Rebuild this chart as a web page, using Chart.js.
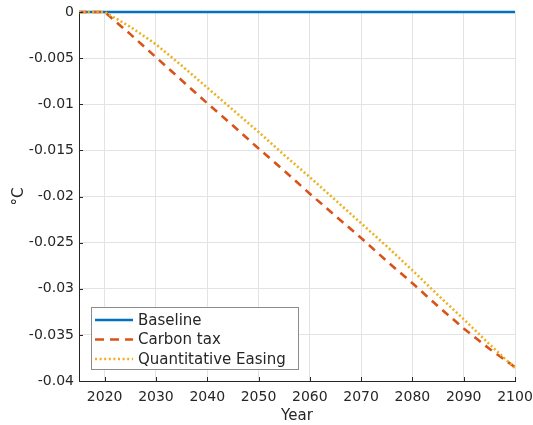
<!DOCTYPE html>
<html>
<head>
<meta charset="utf-8">
<script src="https://cdn.jsdelivr.net/npm/chart.js@4"></script>
<style>
  html, body { margin: 0; padding: 0; background: #fff; }
  #wrap { width: 533px; height: 425px; }
</style>
</head>
<body>
<div id="wrap"><canvas id="myChart" width="533" height="425"></canvas></div>
<script>
// data
const years = [2015, 2020, 2025, 2030, 2035, 2040, 2045, 2050, 2055, 2060, 2065, 2070, 2075, 2080, 2085, 2090, 2095, 2100];
const baseline = [0, 0, 0, 0, 0, 0, 0, 0, 0, 0, 0, 0, 0, 0, 0, 0, 0, 0];
const carbonTax = [0, 0, -0.0024, -0.0049, -0.0074, -0.0099, -0.0123, -0.0148, -0.0172, -0.0197, -0.0221, -0.0245, -0.0270, -0.0294, -0.0319, -0.0343, -0.0365, -0.0385];
const quantEasing = [0, 0, -0.0016, -0.0035, -0.0058, -0.0082, -0.0106, -0.0130, -0.0155, -0.0179, -0.0204, -0.0229, -0.0254, -0.0280, -0.0307, -0.0333, -0.0360, -0.0386];
const xTicks = [2020, 2030, 2040, 2050, 2060, 2070, 2080, 2090, 2100];

const seriesNames = ['Baseline', 'Carbon tax', 'Quantitative Easing'];
const colors = ['#0072BD', '#D95319', '#EDB120'];
const font = 'DejaVu Sans';

const toPts = arr => arr.map((v, i) => ({x: years[i], y: v}));

// small inward tick marks, matlab style
const innerTicks = {
    id: 'innerTicks',
    afterDatasetsDraw(chart) {
        const ctx = chart.ctx;
        const a = chart.chartArea;
        const xs = chart.scales.x, ys = chart.scales.y;
        ctx.save();
        ctx.strokeStyle = '#262626';
        ctx.lineWidth = 1;
        ctx.beginPath();
        xs.ticks.forEach(t => {
            const px = Math.round(xs.getPixelForValue(t.value)) + 0.5;
            ctx.moveTo(px, a.bottom);
            ctx.lineTo(px, a.bottom - 4);
        });
        ys.ticks.forEach(t => {
            const py = Math.round(ys.getPixelForValue(t.value)) + 0.5;
            ctx.moveTo(a.left, py);
            ctx.lineTo(a.left + 4, py);
        });
        ctx.stroke();
        ctx.restore();
    }
};

// legend box inside the axes, bottom-left
const boxLegend = {
    id: 'boxLegend',
    afterDraw(chart) {
        const ctx = chart.ctx;
        const a = chart.chartArea;
        const x0 = a.left + 12, y0 = a.bottom - 74, w = 207, h = 62;
        ctx.save();
        ctx.fillStyle = '#fff';
        ctx.fillRect(x0, y0, w, h);
        ctx.strokeStyle = '#8c8c8c';
        ctx.lineWidth = 1;
        ctx.strokeRect(x0 + 0.5, y0 + 0.5, w, h);
        const dashes = [[], [9, 6], [2, 2.6]];
        chart.data.datasets.forEach((ds, i) => {
            const y = y0 + 13 + i * 19.5;
            ctx.beginPath();
            ctx.setLineDash(dashes[i]);
            ctx.strokeStyle = ds.borderColor;
            ctx.lineWidth = ds.borderWidth;
            ctx.moveTo(x0 + 4, y);
            ctx.lineTo(x0 + 42, y);
            ctx.stroke();
            ctx.setLineDash([]);
            ctx.fillStyle = '#262626';
            ctx.font = '15px "' + font + '"';
            ctx.textBaseline = 'middle';
            ctx.fillText(ds.label, x0 + 47, y + 1);
        });
        ctx.restore();
    }
};

new Chart(document.getElementById('myChart').getContext('2d'), {
    type: 'line',
    data: {
        datasets: [
            {label: seriesNames[0], data: toPts(baseline), borderColor: colors[0], borderWidth: 2.6, order: 3},
            {label: seriesNames[1], data: toPts(carbonTax), borderColor: colors[1], borderWidth: 2.6, borderDash: [8, 6], order: 2},
            {label: seriesNames[2], data: toPts(quantEasing), borderColor: colors[2], borderWidth: 2.6, borderDash: [2, 2.4], order: 1}
        ]
    },
    options: {
        responsive: false,
        animation: false,
        clip: false,
        elements: {point: {radius: 0}, line: {tension: 0}},
        layout: {padding: {top: 12, right: 18, left: 0, bottom: 0}},
        plugins: {legend: {display: false}, tooltip: {enabled: false}},
        scales: {
            x: {
                type: 'linear',
                min: 2015,
                max: 2100,
                afterBuildTicks: s => { s.ticks = xTicks.map(v => ({value: v})); },
                afterFit: s => { s.height = 44; s.paddingLeft = 0; s.paddingRight = 0; },
                grid: {color: '#e3e3e3', tickLength: 0},
                border: {color: '#262626', width: 1},
                ticks: {color: '#262626', font: {family: font, size: 14}, padding: 8, callback: v => String(v)},
                title: {display: true, text: 'Year', color: '#262626', font: {family: font, size: 15}, padding: {top: 0, bottom: 0}}
            },
            y: {
                min: -0.04,
                max: 0,
                afterFit: s => { s.width = 79; s.paddingTop = 0; s.paddingBottom = 0; },
                grid: {color: '#e3e3e3', tickLength: 0},
                border: {color: '#262626', width: 1},
                ticks: {stepSize: 0.005, color: '#262626', font: {family: font, size: 14}, padding: 5,
                    callback: v => String(Number(v.toFixed(3)))},
                title: {display: true, text: '°C', color: '#262626', font: {family: font, size: 15}, padding: {top: 10, bottom: 0}}
            }
        }
    },
    plugins: [innerTicks, boxLegend]
});
</script>
</body>
</html>
